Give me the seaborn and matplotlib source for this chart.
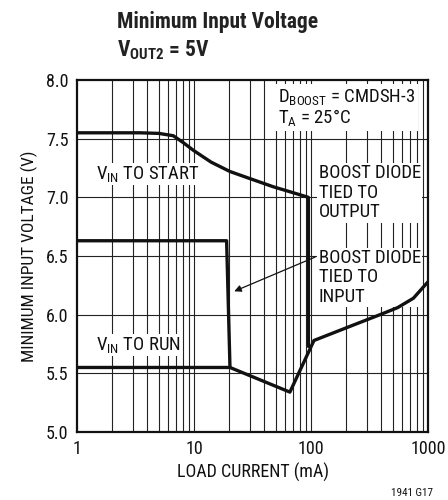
import matplotlib
matplotlib.use("Agg")
import matplotlib.pyplot as plt
import seaborn as sns
import pandas as pd
import numpy as np

sns.set_style("white")
FONT = "Roboto Condensed"
plt.rcParams["font.family"] = [FONT, "DejaVu Sans"]
plt.rcParams["mathtext.fontset"] = "custom"
plt.rcParams["mathtext.rm"] = FONT
plt.rcParams["mathtext.bf"] = FONT + ":bold"
plt.rcParams["mathtext.it"] = FONT

# Data
start_x = [1, 3.45, 5, 6.65, 8, 9.9, 14, 20.3, 30, 47.6, 70, 95, 95]
start_y = [7.55, 7.55, 7.545, 7.525, 7.47, 7.40, 7.30, 7.22, 7.16, 7.09, 7.04, 7.0, 5.73]
input_x = [1, 19, 20.3]
input_y = [6.63, 6.63, 5.55]
run_x = [1, 20.3, 66, 106, 215, 389, 550, 750, 1000]
run_y = [5.55, 5.55, 5.34, 5.78, 5.90, 6.0, 6.06, 6.14, 6.28]

fig = plt.figure(figsize=(4.48, 5.0), dpi=100)
ax = fig.add_axes([77/448, 68/500, 351/448, 352/500])

ax.set_xscale("log")
ax.set_xlim(1, 1000)
ax.set_ylim(5.0, 8.0)

# grid
for dec in [1, 10, 100]:
    for m in range(1, 10):
        v = dec * m
        if 1 < v < 1000:
            ax.axvline(v, color="#222222", lw=0.8, zorder=1)
for yv in np.arange(5.5, 8.0, 0.5):
    ax.axhline(yv, color="#222222", lw=0.8, zorder=1)

for xs, ys in [(start_x, start_y), (input_x, input_y), (run_x, run_y)]:
    df = pd.DataFrame({"x": xs, "y": ys})
    sns.lineplot(data=df, x="x", y="y", sort=False, estimator=None, ax=ax,
                 color="#111111", lw=2.4, zorder=5)

ax.set_xticks([1, 10, 100, 1000])
ax.set_xticklabels(["1", "10", "100", "1000"])
ax.xaxis.set_minor_locator(matplotlib.ticker.NullLocator())
ax.set_yticks([5.0, 5.5, 6.0, 6.5, 7.0, 7.5, 8.0])
ax.set_yticklabels(["5.0", "5.5", "6.0", "6.5", "7.0", "7.5", "8.0"])
ax.tick_params(labelsize=13, length=0, pad=6, colors="#111111")
ax.set_xlabel("LOAD CURRENT (mA)", fontsize=13, color="#111111", labelpad=3)
ax.set_ylabel("MINIMUM INPUT VOLTAGE (V)", fontsize=12.5, color="#111111", labelpad=6)
for s in ax.spines.values():
    s.set_color("#111111")
    s.set_linewidth(1.6)

box = dict(facecolor="white", edgecolor="none", pad=1.0)
fs = 13.5
ax.text(1.45, 7.2, r"V$_{\mathrm{IN}}$ TO START", fontsize=fs, va="center", ha="left", bbox=box, zorder=4, color="#111111")
ax.text(1.45, 5.74, r"V$_{\mathrm{IN}}$ TO RUN", fontsize=fs, va="center", ha="left", bbox=box, zorder=4, color="#111111")
ax.text(116, 7.28, "BOOST DIODE\nTIED TO\nOUTPUT", fontsize=fs, va="top", ha="left", bbox=box, zorder=4, linespacing=1.1, color="#111111")
ax.text(116, 6.56, "BOOST DIODE\nTIED TO\nINPUT", fontsize=fs, va="top", ha="left", bbox=box, zorder=4, linespacing=1.1, color="#111111")
ax.text(52, 7.94, r"D$_{\mathrm{BOOST}}$ = CMDSH-3" + "\n" + r"T$_{\mathrm{A}}$ = 25°C", fontsize=fs, va="top", ha="left",
        bbox=dict(facecolor="white", edgecolor="none", pad=2.0), zorder=4, linespacing=1.0, color="#111111")
ax.annotate("", xy=(21, 6.19), xytext=(114, 6.5),
            arrowprops=dict(arrowstyle="-|>", color="#111111", lw=0.9, mutation_scale=10), zorder=6)

fig.text(117/448, 1 - 22/500, "Minimum Input Voltage", fontsize=15.5, fontweight="bold", va="center", ha="left", color="#222222")
fig.text(117/448, 1 - 50/500, r"$\mathbf{V_{OUT2}}$ = 5V", fontsize=15.5, fontweight="bold", va="center", ha="left", color="#222222")
fig.text(412/448, 1 - 493/500, "1941 G17", fontsize=8, va="center", ha="center", color="#111111")

fig.savefig("out.png", dpi=100)
